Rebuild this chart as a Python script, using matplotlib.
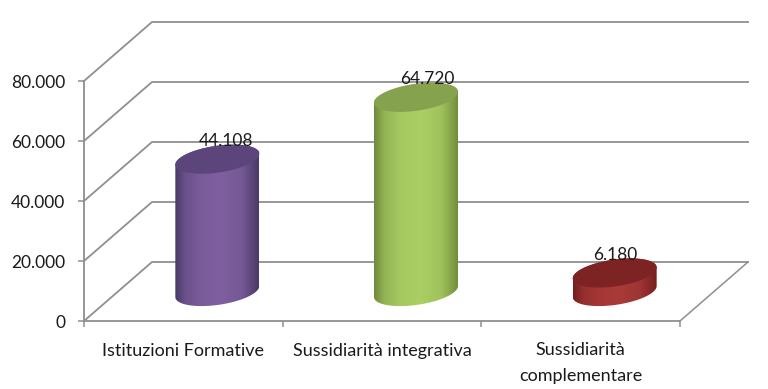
import numpy as np
import matplotlib
matplotlib.use('Agg')
import matplotlib.pyplot as plt
from matplotlib.colors import LinearSegmentedColormap, to_rgb
from matplotlib.patches import Polygon
from matplotlib.ticker import FuncFormatter

categories = ['Istituzioni Formative', 'Sussidiarità integrativa', 'Sussidiarità\ncomplementare']
values = [44108, 64720, 6180]
y_ticks = [0, 20000, 40000, 60000, 80000]
edge_colors = ['#4a3a66', '#6f8a3c', '#761e1f']
mid_colors = ['#7f5fa0', '#abcf64', '#a93a38']
top_colors = ['#5b457b', '#85a24e', '#7d2324']
label_dx = [9, 11, 1]

W, H = 768, 389
plt.rcParams['font.family'] = ['Lato', 'DejaVu Sans']
GRAY = '#8f8f8f'

fig = plt.figure(figsize=(W / 100, H / 100), dpi=100)
ax = fig.add_axes([84 / W, 1 - 321 / H, 596 / W, 240 / H])
ax.set_xlim(0, 3)
ax.set_ylim(0, 80000)

# px sizes converted to data units
ux = 3 / 596
uy = 80000 / 240
depth_x = 68 * ux
depth_y = 59 * uy

# walls and floor
for t in y_ticks:
    ax.plot([0, depth_x, 3 + depth_x], [t, t + depth_y, t + depth_y], color=GRAY, lw=1.3, clip_on=False, zorder=1)
ax.plot([3, 3 + depth_x], [0, depth_y], color=GRAY, lw=1.1, clip_on=False, zorder=1)


def ellipse(cx, cy, t):
    a = 42 * ux
    xs = cx + a * np.cos(t)
    ys = cy + 13.5 * uy * np.sin(t) + 5.5 * uy * np.cos(t)
    return np.column_stack([xs, ys])


def blend(c1, c2, f):
    return tuple((1 - f) * a + f * b for a, b in zip(to_rgb(c1), to_rgb(c2)))


for i, v in enumerate(values):
    cx = i + 0.5 + depth_x / 2
    base = depth_y / 2
    low = ellipse(cx, base, np.linspace(np.pi, 2 * np.pi, 60))
    high = ellipse(cx, base + v, np.linspace(0, np.pi, 60))
    body = Polygon(np.vstack([low, high]), closed=True, fc='none', ec='none')
    ax.add_patch(body)
    e, m = edge_colors[i], mid_colors[i]
    cmap = LinearSegmentedColormap.from_list('c', [(0, e), (0.12, blend(e, m, 0.6)), (0.3, blend(e, m, 0.9)), (0.55, m),
                                                   (0.8, blend(e, m, 0.8)), (0.93, blend(e, m, 0.3)), (1, e)])
    grad = np.linspace(0, 1, 128).reshape(1, -1)
    im = ax.imshow(grad, cmap=cmap, aspect='auto', zorder=3,
                   extent=[cx - 42 * ux, cx + 42 * ux, 0, base + v + 20 * uy])
    im.set_clip_path(body)
    ax.add_patch(Polygon(ellipse(cx, base + v, np.linspace(0, 2 * np.pi, 120)), closed=True,
                         fc=top_colors[i], ec='none', zorder=4))
    ax.text(cx + label_dx[i] * ux, base + v + 18 * uy, f'{v:,}'.replace(',', '.'), ha='center', va='center',
            fontsize=12.5, color='#1a1a1a', zorder=5)

ax.set_xlim(0, 3)
ax.set_ylim(0, 80000)

ax.set_yticks(y_ticks)
ax.yaxis.set_major_formatter(FuncFormatter(lambda y, pos: f'{int(y):,}'.replace(',', '.')))
ax.set_xticks(range(4))
ax.set_xticklabels([])
ax.tick_params(axis='both', color=GRAY, length=4.5, width=1.1, labelsize=12.5, labelcolor='#1a1a1a')
ax.tick_params(axis='y', pad=9)
for s in ['top', 'right']:
    ax.spines[s].set_visible(False)
for s in ['left', 'bottom']:
    ax.spines[s].set_color(GRAY)
    ax.spines[s].set_linewidth(1.3)

# category labels sit under the ticks
for i, c in enumerate(categories):
    ax.text(i + 0.5, -30 * uy, c, ha='center', va='center' if '\n' not in c else 'top', fontsize=13,
            color='#1a1a1a', linespacing=1.75, clip_on=False)
ax.texts[-1].set_y(-21 * uy)

fig.savefig('out.png', dpi=100, facecolor='white')
